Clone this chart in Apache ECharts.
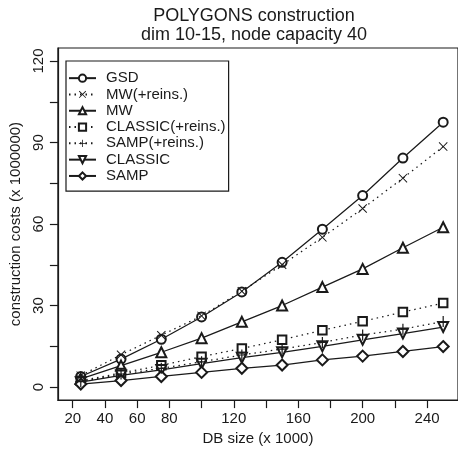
<!DOCTYPE html>
<html>
<head>
<meta charset="utf-8">
<script src="https://cdn.jsdelivr.net/npm/echarts@6/dist/echarts.min.js"></script>
<style>
  html, body { margin: 0; padding: 0; background: #fff; }
  #chart { width: 458px; height: 451px; }
</style>
</head>
<body>
<div id="chart"></div>
<script>
// DB sizes (x 1000) and construction costs (x 1000000) per strategy
const dbSizes = [25, 50, 75, 100, 125, 150, 175, 200, 225, 250];
const gsd = [3.9, 10.3, 17.6, 25.8, 35.0, 45.9, 58.1, 70.5, 84.3, 97.5];
const mwReins = [4.2, 11.9, 19.1, 26.2, 35.3, 45.0, 55.1, 65.7, 76.9, 88.5];
const mw = [3.0, 7.9, 12.8, 18.0, 24.0, 30.0, 36.8, 43.5, 51.3, 58.8];
const classicReins = [2.3, 5.2, 8.0, 11.2, 14.2, 17.4, 20.9, 24.2, 27.6, 30.9];
const sampReins = [2.0, 4.8, 6.9, 9.3, 11.8, 14.0, 16.4, 19.2, 21.3, 24.1];
const classic = [1.8, 4.3, 6.3, 8.6, 10.8, 12.8, 15.0, 17.4, 19.7, 22.1];
const samp = [1.1, 2.4, 3.9, 5.4, 6.9, 8.1, 10.0, 11.4, 13.1, 14.9];

// Axis ticks and labels
const xTicks = [20, 40, 60, 80, 100, 120, 140, 160, 180, 200, 220, 240];
const xLabels = [20, 40, 60, 80, 120, 160, 200, 240];
const yTicks = [0, 15, 30, 45, 60, 75, 90, 105, 120];
const yLabels = [0, 30, 60, 90, 120];

const INK = '#1a1a1a';
const FONT = 'Liberation Sans, Arial, Helvetica, sans-serif';

// Filled outline shapes for the cross-type markers
const PLUS = 'path://M4.45,0h1.1v10h-1.1z M0,4.45h10v1.1h-10z';
const CROSS = 'path://M0.8,0L5,4.2L9.2,0L10,0.8L5.8,5L10,9.2L9.2,10L5,5.8L0.8,10L0,9.2L4.2,5L0,0.8z';

function pairs(vals) {
  return dbSizes.map((x, i) => [x, vals[i]]);
}

function makeSeries(name, vals, symbol, dotted, opts) {
  opts = opts || {};
  return {
    name: name,
    type: 'line',
    data: pairs(vals),
    symbol: symbol,
    symbolSize: opts.size || 9,
    symbolRotate: opts.rotate || 0,
    showAllSymbol: true,
    z: opts.z || 2,
    lineStyle: { color: INK, width: 1.25, type: dotted ? [1.5, 4] : 'solid' },
    itemStyle: opts.filled
      ? { color: INK, borderWidth: 0 }
      : { color: INK, borderColor: INK, borderWidth: 1.05 },
    emphasis: { disabled: true },
    animation: false
  };
}

const series = [
  makeSeries('GSD', gsd, 'emptyCircle', false, { size: 9 }),
  makeSeries('MW(+reins.)', mwReins, CROSS, true, { size: 9, filled: true, z: 3 }),
  makeSeries('MW', mw, 'emptyTriangle', false, { size: 10 }),
  makeSeries('CLASSIC(+reins.)', classicReins, 'emptyRect', true, { size: 8.5 }),
  makeSeries('SAMP(+reins.)', sampReins, PLUS, true, { size: 11, filled: true, z: 3 }),
  makeSeries('CLASSIC', classic, 'emptyTriangle', false, { size: 10, rotate: 180 }),
  makeSeries('SAMP', samp, 'emptyDiamond', false, { size: 11 })
];

const chart = echarts.init(document.getElementById('chart'), null, { renderer: 'canvas' });

chart.setOption({
  animation: false,
  backgroundColor: '#fff',
  textStyle: { fontFamily: FONT, color: INK },
  title: {
    text: 'POLYGONS construction\ndim 10-15, node capacity 40',
    left: 249,
    textAlign: 'center',
    top: 1,
    textStyle: { fontFamily: FONT, fontSize: 18, fontWeight: 'normal', color: INK, lineHeight: 19.5 }
  },
  legend: {
    orient: 'vertical',
    left: 66,
    top: 61,
    padding: [9, 3, 7, 2],
    itemGap: 0,
    itemWidth: 27,
    itemHeight: 9,
    borderColor: INK,
    borderWidth: 1.2,
    borderRadius: 0,
    selectedMode: false,
    textStyle: { fontFamily: FONT, fontSize: 15, color: INK, lineHeight: 16.3, padding: [0, 0, 0, 5] },
    data: series.map(s => s.name)
  },
  grid: {
    show: true,
    left: 51,
    top: 48,
    width: 410,
    height: 355,
    borderColor: INK,
    borderWidth: 1.2,
    backgroundColor: 'transparent',
    containLabel: false
  },
  xAxis: {
    type: 'value',
    min: 10.8,
    max: 259.2,
    name: 'DB size (x 1000)',
    nameLocation: 'middle',
    nameGap: 30,
    nameTextStyle: { fontFamily: FONT, fontSize: 15, color: INK },
    splitLine: { show: false },
    axisLine: { show: true, onZero: false, lineStyle: { color: INK, width: 1.2 } },
    axisTick: { show: true, inside: false, length: 8, customValues: xTicks, lineStyle: { color: INK, width: 1.2 } },
    axisLabel: { customValues: xLabels, margin: 11, fontFamily: FONT, fontSize: 15, color: INK }
  },
  yAxis: {
    type: 'value',
    min: -4.8,
    max: 124.8,
    name: 'construction costs (x 1000000)',
    nameLocation: 'middle',
    nameRotate: 90,
    nameGap: 32,
    nameTextStyle: { fontFamily: FONT, fontSize: 15, color: INK },
    splitLine: { show: false },
    axisLine: { show: true, onZero: false, lineStyle: { color: INK, width: 1.2 } },
    axisTick: { show: true, inside: false, length: 8, customValues: yTicks, lineStyle: { color: INK, width: 1.2 } },
    axisLabel: { customValues: yLabels, rotate: 90, margin: 12, fontFamily: FONT, fontSize: 15, color: INK }
  },
  series: series
});
</script>
</body>
</html>
